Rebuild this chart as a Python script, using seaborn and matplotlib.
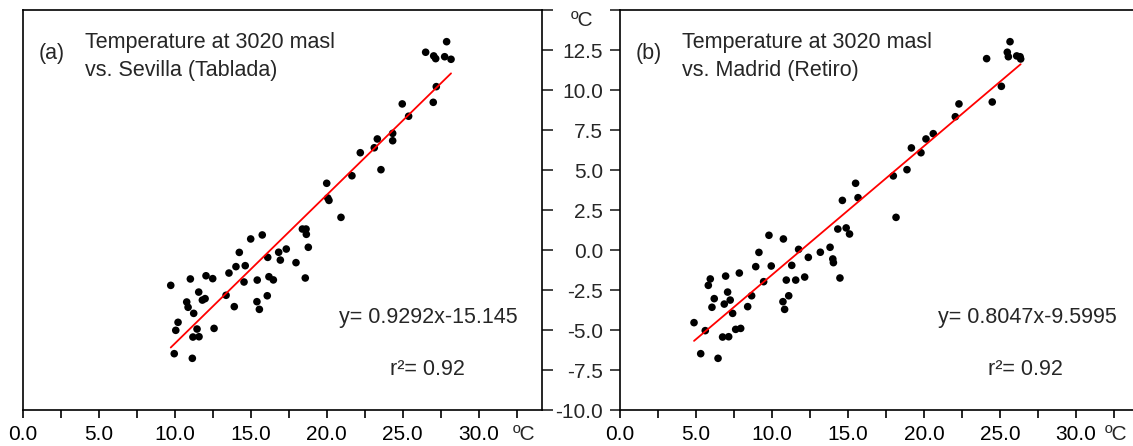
import matplotlib
matplotlib.use("Agg")
import matplotlib.pyplot as plt
import numpy as np
import pandas as pd
import seaborn as sns

# temperature at 3020 masl vs. lowland stations (ºC)
sevilla_x = [9.74, 11.03, 12.06, 12.50, 11.58, 11.82, 12.00, 10.79, 10.88, 11.25,
             10.22, 10.07, 11.47, 11.20, 11.60, 12.59, 9.97, 11.16, 13.38, 13.57,
             14.03, 14.25, 14.64, 14.56, 13.92, 15.00, 15.76, 15.43, 15.41, 15.57,
             16.12, 16.20, 16.49, 16.09, 16.84, 16.95, 17.34, 17.98, 18.40, 18.64,
             18.66, 18.79, 18.59, 20.00, 20.07, 20.15, 20.94, 21.66, 22.21, 23.13,
             23.33, 23.57, 24.34, 24.34, 24.97, 25.39, 27.01, 27.21, 26.51, 27.04,
             27.17, 27.76, 27.89, 28.18]
sevilla_y = [-2.21, -1.81, -1.61, -1.79, -2.63, -3.13, -3.04, -3.25, -3.58, -3.96,
             -4.52, -5.02, -4.94, -5.44, -5.42, -4.90, -6.48, -6.77, -2.83, -1.44,
             -1.04, -0.15, -0.98, -2.00, -3.54, 0.69, 0.94, -1.88, -3.23, -3.71,
             -0.46, -1.67, -1.87, -2.86, -0.14, -0.63, 0.06, -0.79, 1.31, 1.31,
             0.98, 0.17, -1.75, 4.17, 3.25, 3.10, 2.04, 4.64, 6.08, 6.39,
             6.94, 5.02, 7.29, 6.83, 9.13, 8.36, 9.23, 10.21, 12.36, 12.13,
             11.96, 12.08, 13.02, 11.92]

madrid_x = [4.87, 5.61, 5.31, 6.45, 5.81, 5.94, 6.20, 6.05, 6.95, 7.08,
            7.25, 6.86, 7.41, 6.75, 7.15, 7.61, 7.94, 7.85, 8.40, 8.66,
            8.93, 9.14, 9.80, 9.95, 9.45, 10.75, 10.72, 10.83, 10.94, 11.10,
            11.30, 11.56, 11.75, 12.15, 12.39, 13.18, 13.82, 14.00, 14.04, 14.47,
            14.33, 14.88, 15.10, 14.63, 15.50, 15.66, 18.16, 17.98, 18.88, 19.17,
            19.80, 20.13, 20.61, 22.06, 22.30, 24.12, 24.49, 25.09, 25.66, 25.48,
            25.55, 26.10, 26.32, 26.36]
madrid_y = [-4.54, -5.04, -6.48, -6.77, -2.21, -1.81, -3.04, -3.58, -1.63, -2.63,
            -3.13, -3.38, -3.96, -5.44, -5.42, -4.96, -4.90, -1.44, -3.54, -2.86,
            -1.04, -0.15, 0.92, -1.00, -1.98, 0.69, -3.23, -3.71, -1.88, -2.86,
            -0.96, -1.88, 0.04, -1.69, -0.46, -0.14, 0.17, -0.56, -0.79, -1.75,
            1.31, 1.38, 1.00, 3.10, 4.17, 3.27, 2.04, 4.63, 5.02, 6.38,
            6.08, 6.94, 7.27, 8.33, 9.13, 11.96, 9.25, 10.23, 13.02, 12.36,
            12.08, 12.13, 12.08, 11.94]

panels = [
    ("(a)", "Temperature at 3020 masl", "vs. Sevilla (Tablada)", sevilla_x, sevilla_y, 0.9292, -15.145, "y= 0.9292x-15.145"),
    ("(b)", "Temperature at 3020 masl", "vs. Madrid (Retiro)", madrid_x, madrid_y, 0.8047, -9.5995, "y= 0.8047x-9.5995"),
]
r2_label = "r\u00b2= 0.92"

sns.set_style("ticks")
plt.rcParams["font.family"] = ["Liberation Sans", "DejaVu Sans"]

W, H = 1133, 446
fig = plt.figure(figsize=(W / 100, H / 100), dpi=100)
# axes boxes in pixels: (left, right), shared bottom/top
boxes = [(22.7, 541.7), (620.0, 1133.0)]
bottom_px, top_px = 410.0, 10.0
px_per_unit = 15.2

axes = []
for (x0, x1) in boxes:
    ax = fig.add_axes([x0 / W, (H - bottom_px) / H, (x1 - x0) / W, (bottom_px - top_px) / H])
    ax.set_xlim(0, (x1 - x0) / px_per_unit)
    ax.set_ylim(-10, 15)
    axes.append(ax)

lw = 1.2
for i, (ax, p) in enumerate(zip(axes, panels)):
    tag, t1, t2, xs, ys, slope, icpt, eq = p
    df = pd.DataFrame({"x": xs, "y": ys})
    sns.scatterplot(data=df, x="x", y="y", ax=ax, color="black", s=30,
                    edgecolor="none", linewidth=0, zorder=3)
    fit = pd.DataFrame({"x": [min(xs), max(xs)]})
    fit["y"] = slope * fit["x"] + icpt
    sns.lineplot(data=fit, x="x", y="y", ax=ax, color="#ff0000", linewidth=1.3, zorder=4)

    ax.set_xlabel("")
    ax.set_ylabel("")
    xt = np.arange(0, 32.6, 2.5)
    ax.set_xticks(xt)
    ax.set_xticklabels([f"{v:.1f}" if v % 5 == 0 else "" for v in xt], fontsize=15)
    ax.tick_params(axis="x", direction="out", length=6, width=lw, pad=5, colors="black")
    for s in ax.spines.values():
        s.set_linewidth(lw)
        s.set_color("black")

    yt = np.arange(-10, 15.1, 2.5)
    ax.set_yticks(yt)
    if i == 0:
        ax.spines["right"].set_visible(True)
        ax.spines["top"].set_visible(True)
        ax.tick_params(axis="y", left=False, right=True, labelleft=False, labelright=False,
                       direction="out", length=8, width=lw)
    else:
        ax.spines["right"].set_visible(False)
        ax.spines["top"].set_visible(True)
        ax.set_yticklabels([f"{v:.1f}" if v < 15 else "" for v in yt], fontsize=15)
        ax.tick_params(axis="y", direction="out", length=7, width=lw, pad=5)
        ax.text(-0.073, 0.9725, "\u00baC", transform=ax.transAxes, ha="center",
                va="center", fontsize=15)

    # panel annotations
    span = boxes[i][1] - boxes[i][0]
    tx = lambda px: (px - boxes[i][0]) / span
    ty = lambda py: (bottom_px - py) / (bottom_px - top_px)
    off = 0 if i == 0 else 597.3
    ax.text(tx(38.6 + off), ty(58.5), tag, transform=ax.transAxes, fontsize=15.5, va="baseline")
    ax.text(tx(84.6 + off), ty(48.3), t1, transform=ax.transAxes, fontsize=15.5, va="baseline")
    ax.text(tx(84.6 + off), ty(76.0), t2, transform=ax.transAxes, fontsize=15.5, va="baseline")
    eq_px = 339 if i == 0 else 938
    r2_px = 390 if i == 0 else 988
    ax.text(tx(eq_px), ty(323.3), eq, transform=ax.transAxes, fontsize=15.5, va="baseline")
    ax.text(tx(r2_px), ty(375.0), r2_label, transform=ax.transAxes, fontsize=15.5, va="baseline")
    # unit label after the last x tick
    unit_px = 524 if i == 0 else 1116.5
    ax.text(tx(unit_px), -0.0625, "\u00baC", transform=ax.transAxes, ha="center",
            va="center", fontsize=15)

fig.savefig("out.png", dpi=100)
plt.close(fig)
